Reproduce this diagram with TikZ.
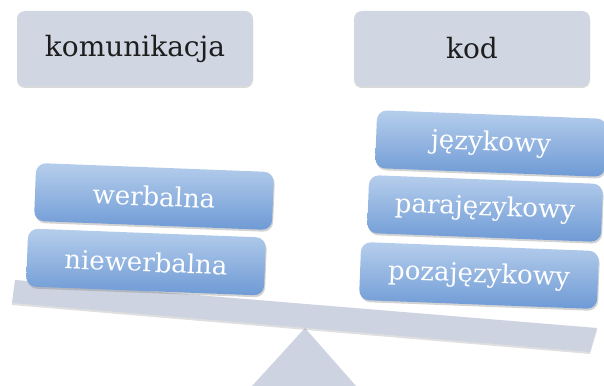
\documentclass[tikz,border=0pt]{standalone}
\usepackage{fontspec}
\setmainfont{DejaVu Serif}
\usetikzlibrary{shadows}
\definecolor{greybox}{HTML}{D1D6E3}
\definecolor{beamcol}{HTML}{CDD3E1}
\definecolor{bluetop}{HTML}{B6CEEC}
\definecolor{bluebot}{HTML}{6E9AD5}
\definecolor{darktext}{HTML}{1E1E1E}
\tikzset{
  topbox/.style={fill=greybox, rounded corners=8pt, minimum width=236pt,
    minimum height=75pt, inner sep=0pt, text=darktext,
    font=\fontsize{28}{32}\selectfont,
    drop shadow={opacity=0.3, shadow xshift=0pt, shadow yshift=-2pt}},
  bluebox/.style={rounded corners=10pt, top color=bluetop, bottom color=bluebot,
    minimum height=58pt, inner sep=0pt, text=white,
    font=\fontsize{26}{30}\selectfont, rotate=-2.2,
    drop shadow={opacity=0.35, shadow xshift=1pt, shadow yshift=-2pt}},
  support/.style={fill=beamcol}
}
\begin{document}
\begin{tikzpicture}[x=1pt,y=-1pt]
\useasboundingbox (0,0) rectangle (604,385);
\clip (0,0) rectangle (604,385);
% top labels
\node[topbox] (kom) at (135,48.5) {komunikacja};
\node[topbox] (kod) at (472,48.5) {kod};
% fulcrum and beam
\fill[support] (305,328) -- (356,386) -- (252,386) -- cycle;
\fill[support, drop shadow={opacity=0.25, shadow xshift=0pt, shadow yshift=-2pt}]
  (15,280) -- (597,328) -- (590,352) -- (12,303) -- cycle;
% left stack
\node[bluebox, minimum width=238pt] (nwer) at (146,262) {niewerbalna};
\node[bluebox, minimum width=238pt] (wer) at (154,196.5) {werbalna};
% right stack
\node[bluebox, minimum width=238pt] (poza) at (479,275.5) {pozajęzykowy};
\node[bluebox, minimum width=234pt] (para) at (485,208.5) {parajęzykowy};
\node[bluebox, minimum width=230pt] (jez) at (491,143.5) {językowy};
\end{tikzpicture}
\end{document}
